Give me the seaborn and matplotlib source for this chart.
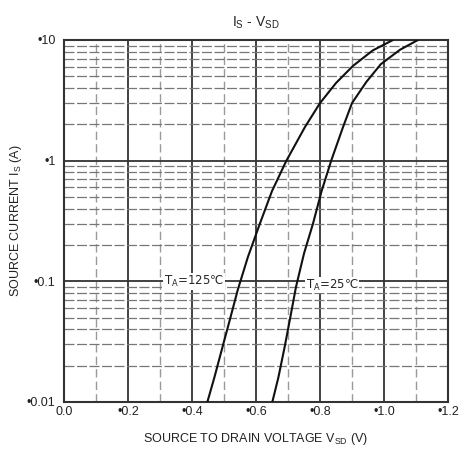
import numpy as np
import pandas as pd
import matplotlib
matplotlib.use("Agg")
import matplotlib.pyplot as plt
import seaborn as sns
from matplotlib.ticker import FixedLocator, NullFormatter

sns.set_theme(style="white")
plt.rcParams['font.family'] = ['Liberation Sans', 'DejaVu Sans']

# Data
v_125 = [0.448, 0.470, 0.496, 0.520, 0.543, 0.575, 0.612, 0.650, 0.695, 0.753, 0.800, 0.850, 0.903, 0.965, 1.028]
i_125 = [0.010, 0.016, 0.029, 0.050, 0.085, 0.160, 0.300, 0.560, 1.000, 1.900, 3.000, 4.400, 6.100, 8.200, 10.00]
v_25 = [0.651, 0.670, 0.690, 0.707, 0.725, 0.750, 0.778, 0.805, 0.835, 0.872, 0.900, 0.945, 0.990, 1.050, 1.106]
i_25 = [0.010, 0.016, 0.029, 0.050, 0.090, 0.170, 0.300, 0.560, 1.000, 1.900, 3.000, 4.500, 6.300, 8.300, 10.00]

x_ticks = [0.0, 0.2, 0.4, 0.6, 0.8, 1.0, 1.2]
x_labels = ["0.0", "•0.2", "•0.4", "•0.6", "•0.8", "•1.0", "•1.2"]
y_ticks = [0.01, 0.1, 1, 10]
y_labels = ["•0.01", "•0.1", "•1", "•10"]

df = pd.concat([
    pd.DataFrame({"V": v_125, "I": i_125, "T": "125"}),
    pd.DataFrame({"V": v_25, "I": i_25, "T": "25"}),
])

fig = plt.figure(figsize=(4.62, 4.57), dpi=100)
ax = fig.add_axes([64/462, 1-402/457, (448-64)/462, (402-40)/457])

ax.set_yscale("log")
ax.set_xlim(0, 1.2)
ax.set_ylim(0.01, 10)

# grid
for xv in np.arange(0.1, 1.2, 0.1):
    k = int(round(xv*10))
    if k % 2 == 0:
        ax.axvline(xv, color="#333333", lw=1.3, zorder=1)
    else:
        ax.axvline(xv, color="#9a9a9a", lw=1.0, ls=(0, (6, 3)), zorder=1)
for dec in [0.01, 0.1, 1]:
    for m in range(2, 10):
        ax.axhline(dec*m, color="#777777", lw=0.9, ls=(0, (8, 2)), zorder=1)
for yv in [0.1, 1]:
    ax.axhline(yv, color="#333333", lw=1.3, zorder=1)

sns.lineplot(data=df, x="V", y="I", units="T", estimator=None, color="#111111",
             lw=1.5, ax=ax, zorder=3, legend=False, sort=False)

ax.xaxis.set_major_locator(FixedLocator(x_ticks))
ax.set_xticklabels(x_labels)
ax.yaxis.set_major_locator(FixedLocator(y_ticks))
ax.set_yticklabels(y_labels)
ax.yaxis.set_minor_formatter(NullFormatter())
ax.tick_params(axis="both", which="both", length=0, labelsize=9, colors="#222222", pad=3)
ax.tick_params(axis="y", pad=6)
for s in ax.spines.values():
    s.set_color("#333333")
    s.set_linewidth(1.5)

ax.set_xlabel(r"SOURCE TO DRAIN VOLTAGE V$_{\mathregular{SD}}$ (V)", fontsize=9, color="#222222", labelpad=9)
ax.set_ylabel(r"SOURCE CURRENT I$_{\mathregular{S}}$ (A)", fontsize=9, color="#222222", labelpad=2)
ax.set_title(r"I$_{\mathregular{S}}$ - V$_{\mathregular{SD}}$", fontsize=10, color="#222222", pad=10)

bb = dict(facecolor="white", edgecolor="none", pad=0.5)
ax.text(0.50, 0.1, r"T$_{\mathregular{A}}$=125℃", fontsize=8.5, ha="right", va="center",
        bbox=bb, zorder=4, family=['DejaVu Sans'])
ax.text(0.755, 0.093, r"T$_{\mathregular{A}}$=25℃", fontsize=8.5, ha="left", va="center",
        bbox=bb, zorder=4, family=['DejaVu Sans'])

fig.savefig("out.png", dpi=100, facecolor="white")
